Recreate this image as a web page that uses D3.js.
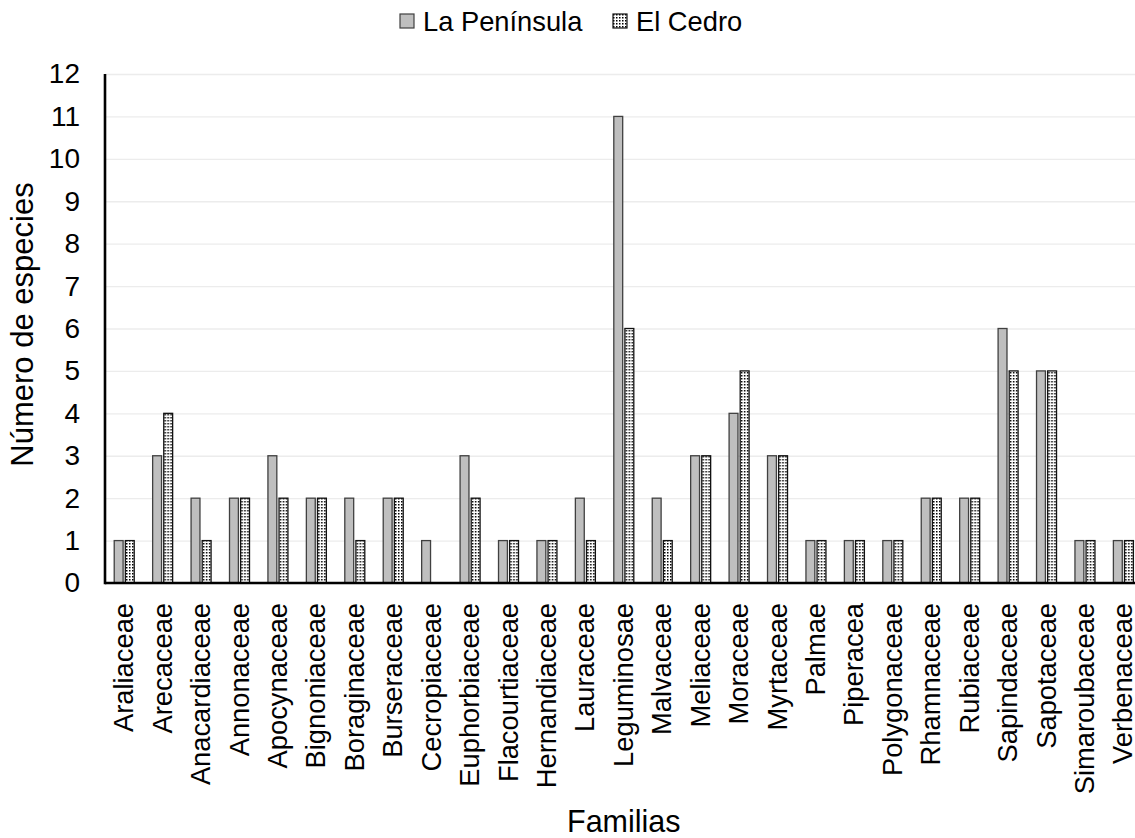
<!DOCTYPE html>
<html>
<head>
<meta charset="utf-8">
<script src="https://cdn.jsdelivr.net/npm/d3@7"></script>
<style>
  html, body { margin: 0; padding: 0; background: #fff; }
  svg { display: block; font-family: "Liberation Sans", Arial, sans-serif; }
</style>
</head>
<body>
<svg id="chart" width="1135" height="838"></svg>
<script>
// Número de especies por familia en cada sitio
const familias = [
  "Araliaceae", "Arecaceae", "Anacardiaceae", "Annonaceae", "Apocynaceae",
  "Bignoniaceae", "Boraginaceae", "Burseraceae", "Cecropiaceae", "Euphorbiaceae",
  "Flacourtiaceae", "Hernandiaceae", "Lauraceae", "Leguminosae", "Malvaceae",
  "Meliaceae", "Moraceae", "Myrtaceae", "Palmae", "Piperacea",
  "Polygonaceae", "Rhamnaceae", "Rubiaceae", "Sapindaceae", "Sapotaceae",
  "Simaroubaceae", "Verbenaceae"
];
const laPeninsula = [1, 3, 2, 2, 3, 2, 2, 2, 1, 3, 1, 1, 2, 11, 2, 3, 4, 3, 1, 1, 1, 2, 2, 6, 5, 1, 1];
const elCedro     = [1, 4, 1, 2, 2, 2, 1, 2, 0, 2, 1, 1, 1, 6, 1, 3, 5, 3, 1, 1, 1, 2, 2, 5, 5, 1, 1];
const seriesNames = ["La Península", "El Cedro"];
const yTicks = [0, 1, 2, 3, 4, 5, 6, 7, 8, 9, 10, 11, 12];

const svg = d3.select("#chart");

// dotted fill used for the second series
const defs = svg.append("defs");
const pat = defs.append("pattern")
  .attr("id", "dots")
  .attr("patternUnits", "userSpaceOnUse")
  .attr("width", 3).attr("height", 3);
pat.append("rect").attr("width", 3).attr("height", 3).attr("fill", "#fff");
pat.append("rect").attr("width", 1.5).attr("height", 1.5).attr("fill", "#000");

const plotLeft = 105, plotRight = 1142.6, plotTop = 74, plotBottom = 583;

const x0 = d3.scaleBand().domain(familias).range([plotLeft, plotRight]);
const bw = x0.bandwidth();
const x1 = d3.scaleBand().domain(seriesNames)
  .range([bw / 2 - 10, bw / 2 + 10]).paddingInner(0.2);
const y = d3.scaleLinear().domain([0, 12]).range([plotBottom, plotTop]);

// horizontal gridlines
svg.append("g")
  .attr("transform", `translate(${plotLeft},0)`)
  .call(d3.axisLeft(y).tickValues(yTicks).tickSize(-(1135 - plotLeft)).tickFormat(""))
  .call(g => g.select(".domain").remove())
  .call(g => g.selectAll("line").attr("stroke", "#ececec").attr("stroke-width", 1.4));

// y tick labels
svg.append("g")
  .attr("transform", `translate(${plotLeft},0)`)
  .call(d3.axisLeft(y).tickValues(yTicks).tickSize(0).tickPadding(25))
  .call(g => g.select(".domain").remove())
  .call(g => g.selectAll("text")
    .attr("font-size", 28).attr("fill", "#000")
    .attr("font-family", "'Liberation Sans', Arial, sans-serif"));

const styles = [
  { fill: "#bfbfbf", stroke: "#404040" },
  { fill: "url(#dots)", stroke: "#111" }
];
const rows = familias.map((f, i) => ({ f, vals: [laPeninsula[i], elCedro[i]] }));

const groups = svg.append("g").selectAll("g")
  .data(rows).join("g")
  .attr("transform", d => `translate(${x0(d.f)},0)`);

groups.selectAll("rect")
  .data(d => d.vals.map((v, k) => ({ v, k })).filter(e => e.v > 0))
  .join("rect")
  .attr("x", e => x1(seriesNames[e.k]))
  .attr("width", x1.bandwidth())
  .attr("y", e => y(e.v))
  .attr("height", e => y(0) - y(e.v))
  .attr("fill", e => styles[e.k].fill)
  .attr("stroke", e => styles[e.k].stroke)
  .attr("stroke-width", 1.3);

// axis lines
svg.append("line")
  .attr("x1", plotLeft).attr("x2", 1135)
  .attr("y1", plotBottom).attr("y2", plotBottom)
  .attr("stroke", "#000").attr("stroke-width", 2.4);
svg.append("line")
  .attr("x1", plotLeft).attr("x2", plotLeft)
  .attr("y1", plotTop).attr("y2", plotBottom + 1.2)
  .attr("stroke", "#000").attr("stroke-width", 2.6);

// category labels, rotated
svg.append("g").selectAll("text")
  .data(familias).join("text")
  .attr("transform", d => `translate(${x0(d) + bw / 2 + 9},603) rotate(-90)`)
  .attr("text-anchor", "end")
  .attr("font-size", 27.3)
  .attr("fill", "#000")
  .text(d => d);

// axis titles
svg.append("text")
  .attr("x", (plotLeft + plotRight) / 2).attr("y", 832)
  .attr("text-anchor", "middle")
  .attr("font-size", 30.5)
  .text("Familias");
svg.append("text")
  .attr("transform", `translate(33,${(plotTop + plotBottom) / 2 - 4}) rotate(-90)`)
  .attr("text-anchor", "middle")
  .attr("font-size", 31)
  .text("Número de especies");

// legend
const legendX = [400, 613];
const legend = svg.append("g").selectAll("g")
  .data(seriesNames).join("g")
  .attr("transform", (d, i) => `translate(${legendX[i]},14)`);
legend.append("rect")
  .attr("width", 14).attr("height", 14)
  .attr("fill", (d, i) => styles[i].fill)
  .attr("stroke", (d, i) => styles[i].stroke)
  .attr("stroke-width", 1.2);
legend.append("text")
  .attr("x", 23).attr("y", 16.5)
  .attr("font-size", 27.3)
  .text(d => d);
</script>
</body>
</html>
